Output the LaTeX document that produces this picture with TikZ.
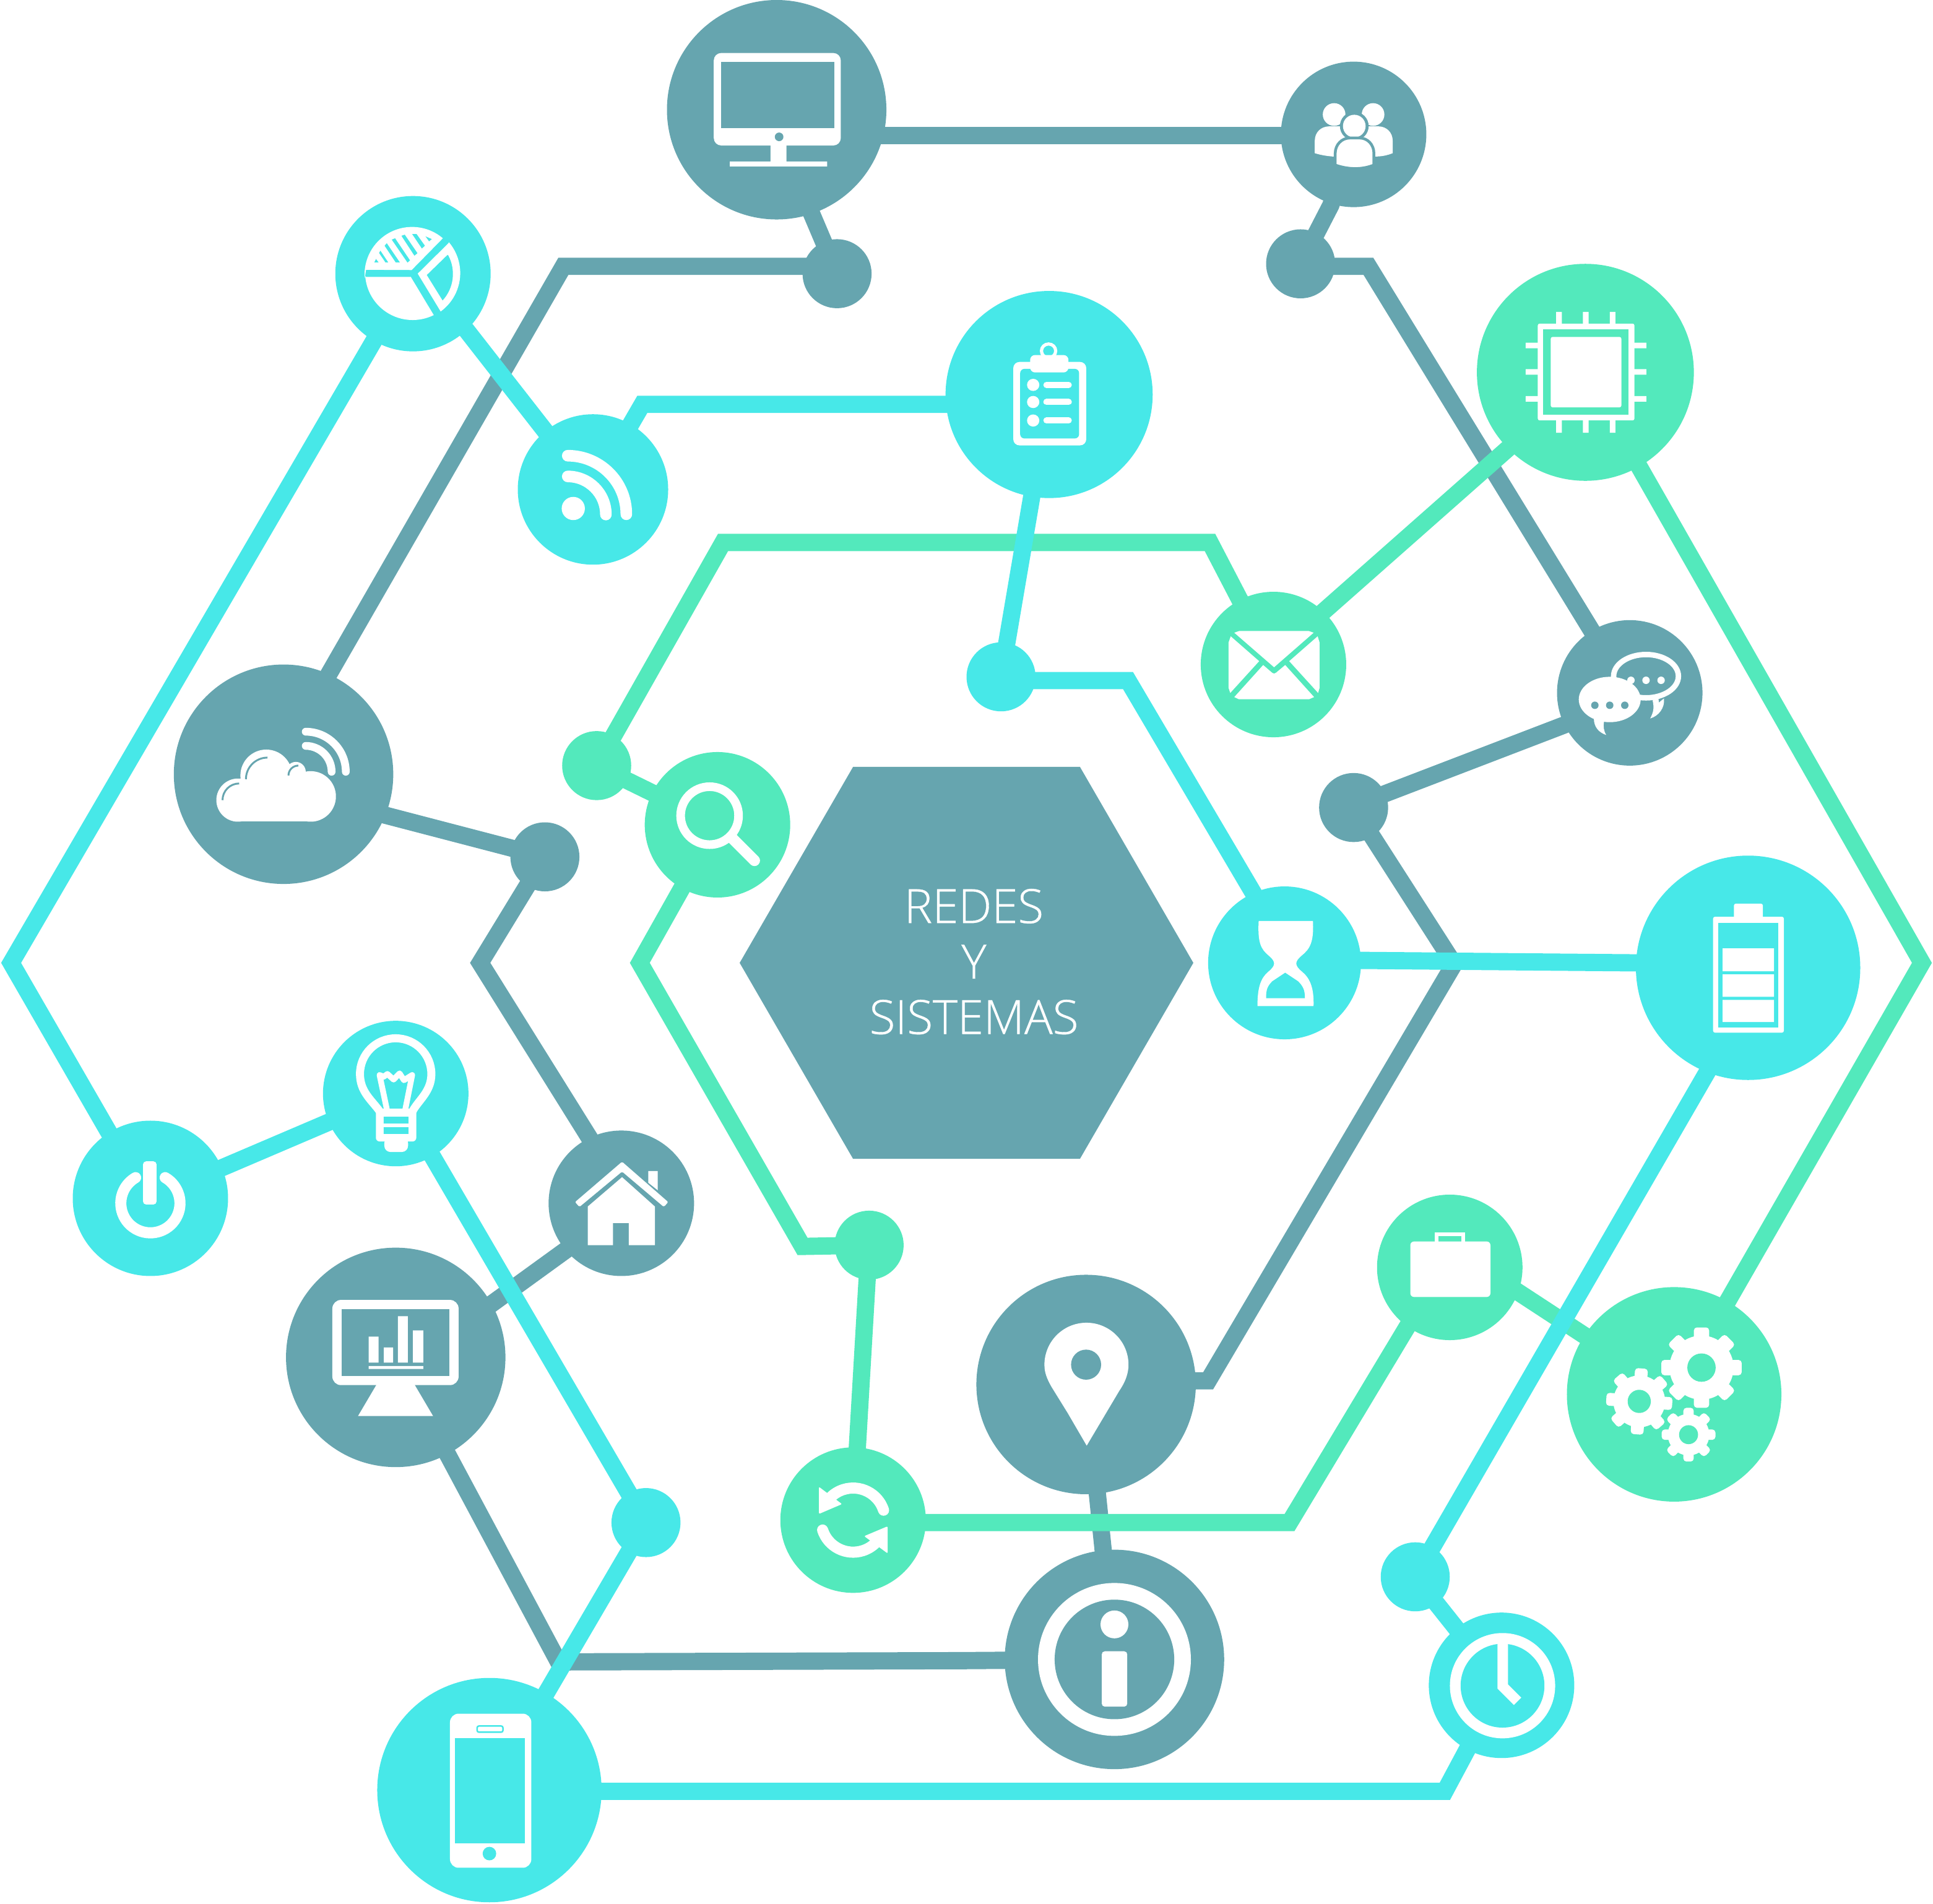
\documentclass[tikz,border=0pt]{standalone}
\usepackage{fontspec}
\setmainfont{Open Sans Light}
\usetikzlibrary{backgrounds}
\definecolor{redteal}{HTML}{66A5AF}
\definecolor{redcyan}{HTML}{47E8E8}
\definecolor{redgreen}{HTML}{53E9BC}
\tikzset{
    hub/.style 2 args={circle,fill=#1,inner sep=0pt,minimum size=#2*.4mm},
    wire/.style={draw=#1,line width=14*.2mm},
    glyph/.style={draw=white,line width=#1*.2mm},
}
\newcommand{\cog}[7]{%
    \begin{scope}[shift={(#1,#2)},rotate=#7]
        \fill[white] (0,0) circle[radius=#3];
        \foreach \a in {0,45,...,315}
            \fill[white,rotate=\a,rounded corners=.5mm]
                (#3-3,-#5) -- (#4,-#5) -- (#4,#5) -- (#3-3,#5) -- cycle;
        \fill[redgreen] (0,0) circle[radius=#6];
    \end{scope}}
\begin{document}
\begin{tikzpicture}[x=.2mm,y=-.2mm]
    \useasboundingbox (0,0) rectangle (1568,1543.9);
    % teal hubs
    \node[hub={redteal}{89}] (monitor) at (630,89) {};
    \node[hub={redteal}{59}] (people) at (1098,109) {};
    \node[hub={redteal}{28}] (dotA) at (679,222) {};
    \node[hub={redteal}{28}] (dotB) at (1055,214) {};
    \node[hub={redteal}{89}] (cloud) at (230,628) {};
    \node[hub={redteal}{28}] (dotC) at (442,695) {};
    \node[hub={redteal}{59}] (home) at (504,976) {};
    \node[hub={redteal}{89}] (chart) at (321,1101) {};
    \node[hub={redteal}{89}] (pin) at (881,1123) {};
    \node[hub={redteal}{89}] (info) at (904,1346) {};
    \node[hub={redteal}{59}] (chat) at (1322,562) {};
    \node[hub={redteal}{28}] (dotD) at (1098,655) {};
    % cyan hubs
    \node[hub={redcyan}{63}] (pie) at (335,222) {};
    \node[hub={redcyan}{61}] (rss) at (481,397) {};
    \node[hub={redcyan}{84}] (clip) at (851,320) {};
    \node[hub={redcyan}{28}] (dotE) at (812,549) {};
    \node[hub={redcyan}{62}] (glass) at (1042,781) {};
    \node[hub={redcyan}{91}] (battery) at (1418,785) {};
    \node[hub={redcyan}{59}] (bulb) at (321,887) {};
    \node[hub={redcyan}{63}] (power) at (122,972) {};
    \node[hub={redcyan}{28}] (dotF) at (524,1235) {};
    \node[hub={redcyan}{91}] (phone) at (397,1452) {};
    \node[hub={redcyan}{28}] (dotG) at (1148,1279) {};
    \node[hub={redcyan}{59}] (clock) at (1218,1367) {};
    % green hubs
    \node[hub={redgreen}{88}] (chip) at (1286,302) {};
    \node[hub={redgreen}{59}] (mail) at (1033,539) {};
    \node[hub={redgreen}{28}] (dotH) at (484,621) {};
    \node[hub={redgreen}{59}] (search) at (582,669) {};
    \node[hub={redgreen}{28}] (dotI) at (705,1010) {};
    \node[hub={redgreen}{59}] (sync) at (692,1233) {};
    \node[hub={redgreen}{59}] (case) at (1176,1028) {};
    \node[hub={redgreen}{87}] (gears) at (1358,1131) {};

    \begin{scope}[on background layer]
        \draw[wire=redteal] (monitor.center) -- (630,110) -- (1098,110) -- (people.center);
        \draw[wire=redteal] (monitor.center) -- (658,172.5) -- (dotA.center);
        \draw[wire=redteal] (dotA.center) -- (679,216) -- (457,216) -- (262,555) -- (cloud.center);
        \draw[wire=redteal] (people.center) -- (1079.5,166.5) -- (dotB.center);
        \draw[wire=redteal] (dotB.center) -- (1055,216) -- (1110,216) -- (chat.center);
        \draw[wire=redteal] (chat.center) -- (1269,588) -- (1123,644) -- (dotD.center);
        \draw[wire=redteal] (dotD.center) -- (1179.5,782) -- (980,1120) -- (881,1120) -- (pin.center);
        \draw[wire=redteal] (dotC.center) -- (235,641) -- (cloud.center);
        \draw[wire=redteal] (dotC.center) -- (389.5,781) -- (490,942) -- (home.center);
        \draw[wire=redteal] (home.center) -- (490,991.5) -- (350,1093) -- (chart.center);
        \draw[wire=redteal] (chart.center) -- (453,1348) -- (780,1347) -- (info.center);
        \draw[wire=redteal] (pin.center) -- (info.center);

        \draw[wire=redgreen] (chip.center) -- (1240,349) -- (1060,508) -- (mail.center);
        \draw[wire=redgreen] (chip.center) -- (1559,781) -- (gears.center);
        \draw[wire=redgreen] (gears.center) -- (1320,1106) -- (1210,1034) -- (case.center);
        \draw[wire=redgreen] (case.center) -- (1150,1062) -- (1046,1235) -- (692,1235) -- (sync.center);
        \draw[wire=redgreen] (sync.center) -- (dotI.center);
        \draw[wire=redgreen] (dotI.center) -- (651,1011) -- (519,781) -- (search.center);
        \draw[wire=redgreen] (search.center) -- (dotH.center);
        \draw[wire=redgreen] (dotH.center) -- (586.5,440) -- (981.5,440) -- (mail.center);

        \draw[wire=redcyan] (pie.center) -- (9,781) -- (88,918) -- (power.center);
        \draw[wire=redcyan] (pie.center) -- (378.5,268) -- (442.5,350) -- (rss.center);
        \draw[wire=redcyan] (rss.center) -- (521,328) -- (790,328) -- (clip.center);
        \draw[wire=redcyan] (clip.center) -- (dotE.center);
        \draw[wire=redcyan] (dotE.center) -- (812,552) -- (915,552) -- (1030,747) -- (glass.center);
        \draw[wire=redcyan] (glass.center) -- (1104,779) -- (1328,781) -- (battery.center);
        \draw[wire=redcyan] (battery.center) -- (1395,852) -- (dotG.center);
        \draw[wire=redcyan] (dotG.center) -- (clock.center);
        \draw[wire=redcyan] (clock.center) -- (1172,1453) -- (397,1453) -- (phone.center);
        \draw[wire=redcyan] (phone.center) -- (dotF.center);
        \draw[wire=redcyan] (dotF.center) -- (bulb.center);
        \draw[wire=redcyan] (bulb.center) -- (power.center);
    \end{scope}

    % centre
    \fill[redteal] (692,622) -- (876,622) -- (968,781) -- (876,940) -- (692,940) -- (600,781) -- cycle;
    \node[text=white,align=center,inner sep=0pt,font=\fontsize{21.8}{25.6}\selectfont\addfontfeature{FakeBold=.5}] (title) at (790,780) {REDES\\Y\\SISTEMAS};

    % monitor
    \fill[white,rounded corners=1.2mm] (579,43) rectangle (682,118);
    \fill[redteal] (585,50) rectangle (677,104);
    \fill[redteal] (632,111) circle[radius=3.5];
    \fill[white] (625,117) rectangle (638,132) (592,131) rectangle (671,135);
    % people
    \begin{scope}[shift={(1004.2,40.2)},scale=.2241]
        \fill[white] (348,235) circle[radius=41] (489,235) circle[radius=41];
        \fill[white] (278,375) -- (278,330) .. controls (278,300) and (300,278) .. (330,278)
            -- (508,278) .. controls (538,278) and (560,300) .. (560,330) -- (560,375)
            .. controls (540,383) and (520,387) .. (500,387) -- (342,387)
            .. controls (320,385) and (300,382) .. (278,375) -- cycle;
        \fill[redteal] (421,277) circle[radius=52];
        \fill[white] (421,277) circle[radius=41];
        \fill[white,draw=redteal,line width=.45mm] (352,418) -- (352,375)
            .. controls (352,345) and (375,320) .. (405,320) -- (440,320)
            .. controls (470,320) and (492,345) .. (492,375) -- (492,418)
            .. controls (450,435) and (400,435) .. (352,418) -- cycle;
    \end{scope}
    % chip
    \fill[white,rounded corners=.3mm] (1247.4,262.5) rectangle (1325.8,341);
    \fill[redgreen] (1251.8,267) rectangle (1320.9,336.5);
    \fill[white,rounded corners=.3mm] (1257.9,273.3) rectangle (1315.2,330.4);
    \foreach \p in {1264.6,1286.3,1308.1}
        \fill[white] (\p-2.3,253) rectangle (\p+2.3,263) (\p-2.3,340) rectangle (\p+2.3,351);
    \foreach \p in {280.2,301.7,323.5}
        \fill[white] (1237.5,\p-2.3) rectangle (1248,\p+2.3) (1325,\p-2.3) rectangle (1335.5,\p+2.3);
    % pie and rss
    \begin{scope}[shift={(251,140.6)},scale=.2241]
        \fill[white] (205,349) -- (370,350) -- (483,235) arc[start angle=-49.6,end angle=-184.4,radius=172] -- cycle;
        \fill[redcyan] (235,322) -- (241,310) -- (250,322) -- cycle;
        \fill[redcyan] (257,280) -- (285,322) -- (275,322) -- (252,288) -- cycle;
        \fill[redcyan] (280,253) -- (327,322) -- (312,322) -- (272,262) -- cycle;
        \fill[redcyan] (310,235) -- (364,315) -- (355,323) -- (298,240) -- cycle;
        \fill[redcyan] (345,222) -- (391,289) -- (380,298) -- (333,226) -- cycle;
        \fill[redcyan] (388,220) -- (418,262) -- (407,272) -- (372,220) -- cycle;
        \fill[redcyan] (420,228) -- (443,238) -- (433,246) -- cycle;
        \fill[white] (205,375) -- (367,375) -- (450,513) arc[start angle=63.6,end angle=175.6,radius=172] -- cycle;
        \fill[white] (503,253) -- (392,363) -- (475,500) arc[start angle=54,end angle=-40.4,radius=172] -- cycle;
        \fill[redcyan] (500,295) -- (425,368) -- (482,460) arc[start angle=42.5,end angle=-28,radius=142] -- cycle;
        % rss
        \fill[white] (955,1213) circle[radius=42];
        \draw[glyph=9.4,line cap=round] (935,1097) arc[start angle=-90,end angle=0,radius=138];
        \draw[glyph=9.4,line cap=round] (935,1022) arc[start angle=-90,end angle=0,radius=212];
    \end{scope}
    % clipboard and mail
    \begin{scope}[shift={(803.3,251)},xscale=.19214,yscale=.2241]
        \fill[white,rounded corners=1mm] (97,190) rectangle (405,492);
        \fill[redcyan,rounded corners=.7mm] (126,215) rectangle (375,467);
        \draw[glyph=2.6] (246,150) ellipse[x radius=30,y radius=25];
        \fill[white,rounded corners=.8mm] (168,165) rectangle (330,228);
        \foreach \p in {273,335,402} {
            \fill[white] (181,\p) ellipse[x radius=26,y radius=22];
            \draw[glyph=5,line cap=round] (237,\p) -- (331,\p);
        }
        \fill[white] (1030,1170) -- (1050,1164) -- (1345,1164) -- (1365,1170) -- (1198,1295) -- cycle;
        \fill[white] (1015,1183) -- (1135,1273) -- (1013,1388) -- (1006,1370) -- (1006,1205) -- cycle;
        \fill[white] (1382,1183) -- (1262,1273) -- (1384,1388) -- (1390,1370) -- (1390,1205) -- cycle;
        \fill[white] (1030,1403) -- (1152,1287) -- (1190,1315) -- (1198,1318) -- (1206,1315)
            -- (1245,1287) -- (1367,1403) -- (1345,1411) -- (1050,1411) -- cycle;
    \end{scope}
    % chat
    \begin{scope}[shift={(1255.2,502.1)},scale=.16736]
        \draw[glyph=4.4] (478,277) ellipse[x radius=157,y radius=105];
        \fill[white] (510,395) -- (538,378) -- (540,405) -- (565,385) .. controls (570,430) and (540,470) .. (498,482)
            .. controls (515,450) and (518,430) .. (510,395) -- cycle;
        \fill[white] (405,297) circle[radius=18] (478,297) circle[radius=18] (551,297) circle[radius=18];
        \fill[white] (302,390) ellipse[x radius=150,y radius=110];
        \fill[white] (225,480) .. controls (225,525) and (250,550) .. (285,562)
            .. controls (272,540) and (270,520) .. (275,495) -- cycle;
        \fill[redteal] (230,418) circle[radius=18] (302,418) circle[radius=18] (375,418) circle[radius=18];
    \end{scope}
    % cloud
    \fill[white] (193,649) circle[radius=17.5] (216,629) circle[radius=21] (240,626) circle[radius=8] (252,646) circle[radius=20.5];
    \fill[white] (193,640) rectangle (252,666.5);
    \draw[redteal,line width=.3mm] (194,635.5) arc[start angle=-90,end angle=-180,radius=13.5];
    \draw[redteal,line width=.3mm] (217,614.5) arc[start angle=-90,end angle=-180,radius=17.5];
    \draw[redteal,line width=.3mm] (242,621) arc[start angle=-90,end angle=-180,radius=8];
    \draw[glyph=6.3,line cap=round] (248,593.5) arc[start angle=-90,end angle=0,radius=32.5];
    \draw[glyph=6.3,line cap=round] (248,605) arc[start angle=-90,end angle=0,radius=21];
    % search
    \draw[glyph=7] (575.6,661.6) circle[radius=23.5];
    \draw[glyph=9,line cap=round] (594,680) -- (612,698);
    % hourglass
    \fill[white] (1021,747) -- (1065,747) .. controls (1066,765) and (1062,770) .. (1056,775)
        .. controls (1050,780) and (1050,783) .. (1056,788) .. controls (1062,793) and (1066,800) .. (1065.5,816)
        -- (1020,816) .. controls (1020,800) and (1023,793) .. (1029,788)
        .. controls (1035,783) and (1035,780) .. (1029,775) .. controls (1023,770) and (1020,765) .. (1021,747) -- cycle;
    \fill[redcyan] (1042.5,789) -- (1053,796) .. controls (1057,800) and (1058.5,803) .. (1058.5,809.7)
        -- (1027,809.7) .. controls (1027,803) and (1028,800) .. (1032,796) -- cycle;
    % battery
    \fill[white,rounded corners=.3mm] (1406.5,733) rectangle (1430,745);
    \fill[white,rounded corners=.3mm] (1389.6,743.6) rectangle (1447,837.6);
    \fill[redcyan] (1394,748.5) rectangle (1442.7,833.5);
    \fill[white] (1397.3,769.2) rectangle (1439,787.8) (1397.3,790.3) rectangle (1439,808.5) (1397.3,811) rectangle (1439,829);
    % bulb
    \begin{scope}[shift={(251,813.4)},scale=.16736]
        \draw[glyph=6.5] (340,525) .. controls (300,470) and (245,430) .. (245,345)
            arc[start angle=180,end angle=360,radius=173] .. controls (591,430) and (530,470) .. (500,525);
        \fill[white,rounded corners=.6mm] (322,513) rectangle (518,672);
        \fill[white,rounded corners=1mm] (363,650) rectangle (478,723);
        \fill[redcyan] (360,552) rectangle (480,585) (360,603) rectangle (480,635);
        \draw[glyph=4.7,line cap=round,line join=round] (375,515) -- (340,350) (340,350) -- (360,358) -- (378,345)
            -- (408,372) -- (437,342) -- (458,375) -- (498,350) -- (465,515);
    \end{scope}
    % power
    \draw[glyph=9,line cap=round] (134,955.2) arc[start angle=-60,end angle=240,radius=24];
    \fill[white,rounded corners=.5mm] (116,942) rectangle (127,977);
    % home
    \fill[white,rounded corners=.2mm] (504.6,942.3) -- (542,975) -- (538.5,979) -- (504.6,950.3) -- (470,979) -- (466.5,975) -- cycle;
    \fill[white] (504.6,954.8) -- (531.2,978.6) -- (531.2,1010) -- (510,1010) -- (510,992) -- (497.3,992) -- (497.3,1010) -- (476.8,1010) -- (476.8,978.6) -- cycle;
    \fill[white] (525.8,949.8) -- (533.5,949.8) -- (533.5,965.4) -- (525.8,959.3) -- cycle;
    % chart
    \fill[white,rounded corners=1.4mm] (269.6,1054.4) rectangle (372,1123.5);
    \fill[redteal] (277.3,1061.9) rectangle (364.7,1116.3);
    \fill[white] (299.1,1084.2) rectangle (307.1,1105.3) (311.3,1093) rectangle (318.9,1105.3)
        (322.8,1067.6) rectangle (330.8,1105.3) (334.9,1079.1) rectangle (343.3,1105.3)
        (299.1,1108) rectangle (343.3,1110.4);
    \fill[white] (305.5,1123) -- (336.2,1123) -- (351.3,1148.6) -- (290.4,1148.6) -- cycle;
    % pin
    \fill[white] (881.5,1172.6) -- (866,1146) -- (853,1125) .. controls (849,1118) and (847.2,1113) .. (847.2,1107)
        arc[start angle=180,end angle=360,radius=34.1] .. controls (915.4,1113) and (913.5,1120) .. (908,1128) -- cycle;
    \fill[redteal] (881,1106.9) circle[radius=12.2];
    % info
    \fill[white] (904,1346) circle[radius=62];
    \fill[redteal] (904,1346) circle[radius=48.5];
    \fill[white] (904,1317.6) circle[radius=11.3];
    \fill[white,rounded corners=.5mm] (893.7,1339.4) rectangle (914.4,1384.3);
    % sync
    \draw[glyph=9,line cap=round] (692,1233) ++(-18:26) arc[start angle=-18,end angle=-135,radius=26];
    \draw[glyph=9,line cap=round] (692,1233) ++(162:26) arc[start angle=162,end angle=45,radius=26];
    \fill[white,rounded corners=.2mm] (664.3,1206) -- (664.3,1228) -- (683,1220) -- cycle;
    \fill[white,rounded corners=.2mm] (720,1260) -- (720,1238) -- (701,1246) -- cycle;
    % clock
    \fill[white] (1218.8,1367.3) circle[radius=42.7];
    \fill[redcyan] (1218.8,1367.3) circle[radius=34];
    \draw[glyph=8.5,line join=miter] (1219,1333) -- (1219,1368) -- (1231,1380);
    % case
    \fill[white,rounded corners=.6mm] (1144,1007) rectangle (1209,1052);
    \draw[glyph=3] (1165.5,1007) -- (1165.5,1001) -- (1187,1001) -- (1187,1007);
    % phone
    \fill[white,rounded corners=1.4mm] (365,1390) rectangle (431,1515);
    \fill[redcyan] (369,1410) rectangle (426,1495);
    \fill[redcyan] (397,1503.5) circle[radius=5.5];
    \draw[redcyan,line width=.25mm,rounded corners=.3mm] (387,1400) rectangle (408,1405);
    % gears
    \cog{1380.2}{1109.3}{26}{32.6}{6.2}{11.5}{0}
    \cog{1329.7}{1136.7}{21}{26.8}{5.2}{9.4}{-4}
    \cog{1369.7}{1163.7}{16.8}{21.8}{4.2}{7.7}{0}
\end{tikzpicture}
\end{document}
